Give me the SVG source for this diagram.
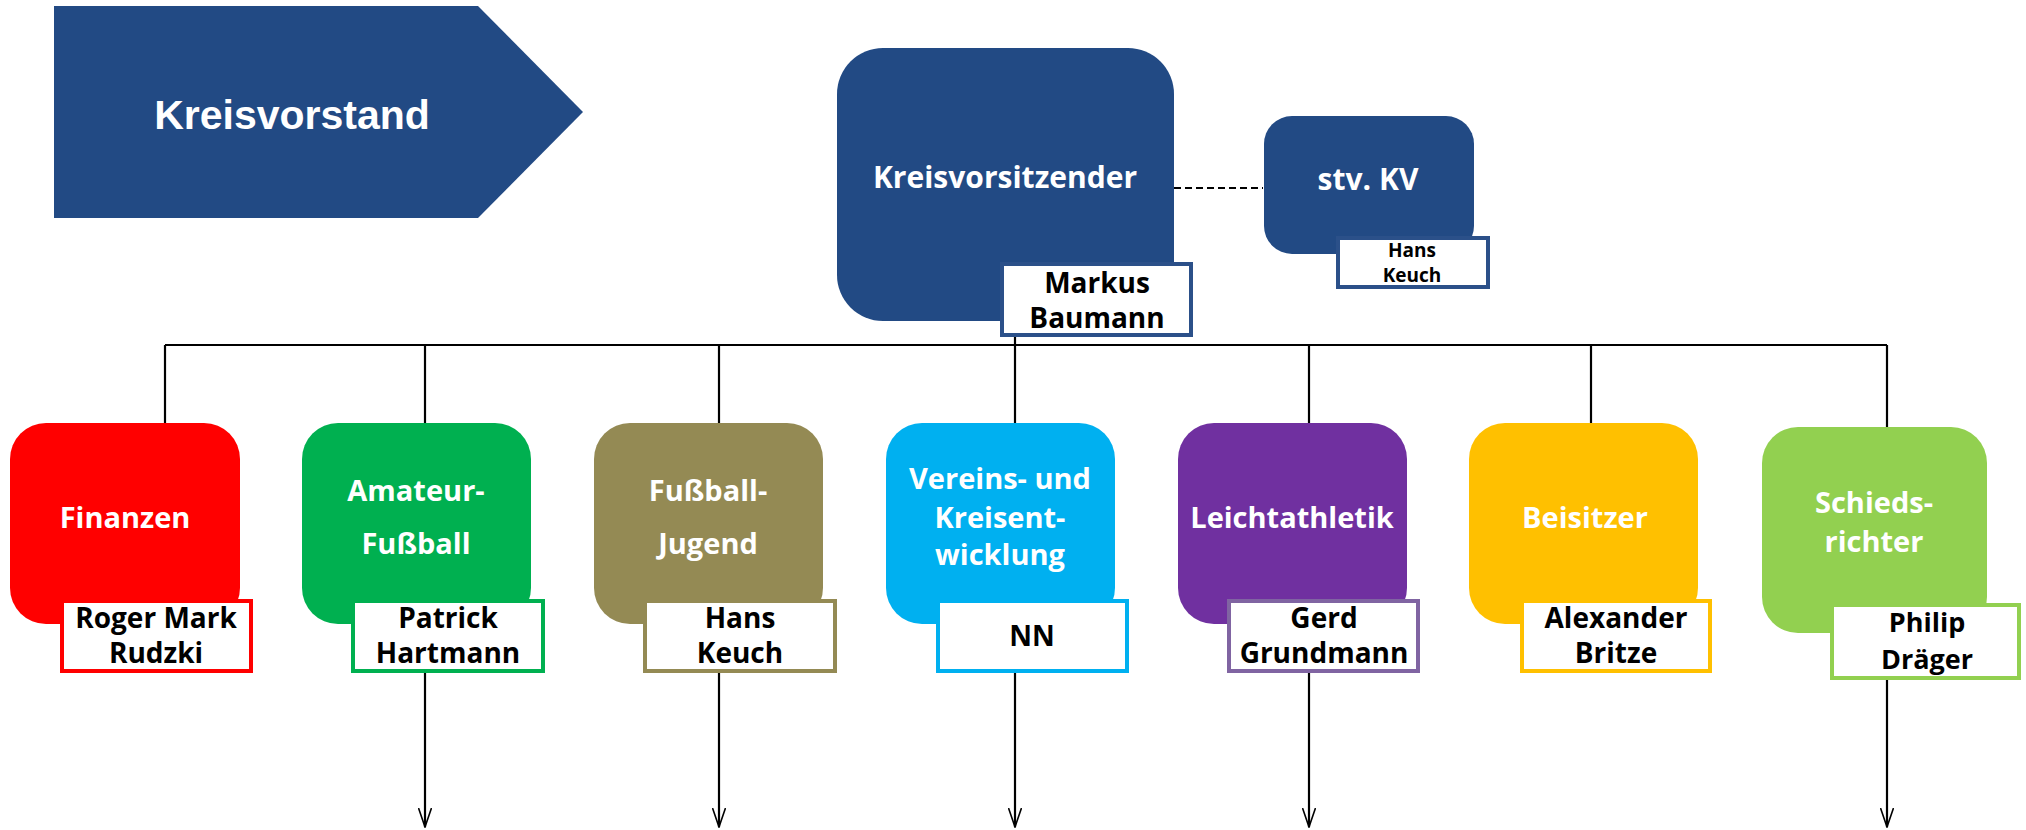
<svg xmlns="http://www.w3.org/2000/svg" width="2026" height="830" viewBox="0 0 2026 830">
<defs>
<style>
.t{font-family:"Open Sans","Noto Sans","Liberation Sans",sans-serif;font-weight:700;fill:#fff;text-anchor:middle;font-size:29px}
.n{font-family:"Open Sans","Noto Sans","Liberation Sans",sans-serif;font-weight:700;fill:#000;text-anchor:middle;font-size:28px}
.nb{fill:#fff;stroke-width:4}
.ln{stroke:#000;stroke-width:2.2;fill:none}
</style>
<marker id="arr" viewBox="0 0 20 14" refX="19" refY="7" markerWidth="20" markerHeight="14" orient="auto" markerUnits="userSpaceOnUse">
<path d="M0,0.5 L19,7 L0,13.5" fill="none" stroke="#000" stroke-width="1.6"/>
</marker>
</defs>
<rect width="2026" height="830" fill="#fff"/>

<g id="connectors">
<line class="ln" x1="165" y1="345" x2="1887" y2="345"/>
<line class="ln" x1="165" y1="345" x2="165" y2="428"/>
<line class="ln" x1="425" y1="345" x2="425" y2="428"/>
<line class="ln" x1="719" y1="345" x2="719" y2="428"/>
<line class="ln" x1="1015" y1="330" x2="1015" y2="428"/>
<line class="ln" x1="1309" y1="345" x2="1309" y2="428"/>
<line class="ln" x1="1591" y1="345" x2="1591" y2="428"/>
<line class="ln" x1="1887" y1="345" x2="1887" y2="432"/>
<line x1="1174" y1="188" x2="1263" y2="188" stroke="#000" stroke-width="2.2" stroke-dasharray="7,4"/>
<line class="ln" x1="425" y1="670" x2="425" y2="827" marker-end="url(#arr)"/>
<line class="ln" x1="719" y1="670" x2="719" y2="827" marker-end="url(#arr)"/>
<line class="ln" x1="1015" y1="670" x2="1015" y2="827" marker-end="url(#arr)"/>
<line class="ln" x1="1309" y1="670" x2="1309" y2="827" marker-end="url(#arr)"/>
<line class="ln" x1="1887" y1="678" x2="1887" y2="827" marker-end="url(#arr)"/>
</g>

<g id="kreisvorstand">
<polygon points="54,6 478,6 583,112 478,218 54,218" fill="#224a84"/>
<text x="292" y="129" font-family="Liberation Sans, Arial, sans-serif" font-weight="700" font-size="41" fill="#fff" text-anchor="middle">Kreisvorstand</text>
</g>

<g id="kreisvorsitzender">
<rect x="837" y="48" width="337" height="273" rx="46" fill="#224a84"/>
<text class="t" x="1005" y="188" style="font-size:30px">Kreisvorsitzender</text>
<rect class="nb" x="1002" y="264" width="189" height="71" stroke="#2b5089"/>
<text class="n" x="1097" y="293">Markus</text>
<text class="n" x="1097" y="328">Baumann</text>
</g>

<g id="stv-kv">
<rect x="1264" y="116" width="210" height="138" rx="28" fill="#224a84"/>
<text class="t" x="1368" y="190" style="font-size:30px">stv. KV</text>
<rect class="nb" x="1338" y="238" width="150" height="49" stroke="#2b5089"/>
<text class="n" x="1412" y="257" style="font-size:19px">Hans</text>
<text class="n" x="1412" y="282" style="font-size:19px">Keuch</text>
</g>

<g id="finanzen">
<rect x="10" y="423" width="230" height="201" rx="36" fill="#ff0000"/>
<text class="t" x="125" y="528">Finanzen</text>
<rect class="nb" x="62" y="601" width="189" height="70" stroke="#ff0000"/>
<text class="n" x="156" y="628">Roger Mark</text>
<text class="n" x="156" y="663">Rudzki</text>
</g>

<g id="amateur-fussball">
<rect x="302" y="423" width="229" height="201" rx="36" fill="#00b050"/>
<text class="t" x="416" y="501">Amateur-</text>
<text class="t" x="416" y="554">Fußball</text>
<rect class="nb" x="353" y="601" width="190" height="70" stroke="#00b050"/>
<text class="n" x="448" y="628">Patrick</text>
<text class="n" x="448" y="663">Hartmann</text>
</g>

<g id="fussball-jugend">
<rect x="594" y="423" width="229" height="201" rx="36" fill="#948a54"/>
<text class="t" x="708" y="501">Fußball-</text>
<text class="t" x="708" y="554">Jugend</text>
<rect class="nb" x="645" y="601" width="190" height="70" stroke="#948a54"/>
<text class="n" x="740" y="628">Hans</text>
<text class="n" x="740" y="663">Keuch</text>
</g>

<g id="vereinsentwicklung">
<rect x="886" y="423" width="229" height="201" rx="36" fill="#00b0f0"/>
<text class="t" x="1000" y="489">Vereins- und</text>
<text class="t" x="1000" y="528">Kreisent-</text>
<text class="t" x="1000" y="565">wicklung</text>
<rect class="nb" x="938" y="601" width="189" height="70" stroke="#00b0f0"/>
<text class="n" x="1032" y="646">NN</text>
</g>

<g id="leichtathletik">
<rect x="1178" y="423" width="229" height="201" rx="36" fill="#7030a0"/>
<text class="t" x="1292" y="528">Leichtathletik</text>
<rect class="nb" x="1229" y="601" width="189" height="70" stroke="#8064a2"/>
<text class="n" x="1324" y="628">Gerd</text>
<text class="n" x="1324" y="663">Grundmann</text>
</g>

<g id="beisitzer">
<rect x="1469" y="423" width="229" height="201" rx="36" fill="#ffc000"/>
<text class="t" x="1585" y="528">Beisitzer</text>
<rect class="nb" x="1522" y="601" width="188" height="70" stroke="#ffc000"/>
<text class="n" x="1616" y="628">Alexander</text>
<text class="n" x="1616" y="663">Britze</text>
</g>

<g id="schiedsrichter">
<rect x="1762" y="427" width="225" height="206" rx="36" fill="#92d050"/>
<text class="t" x="1874" y="513">Schieds-</text>
<text class="t" x="1874" y="552">richter</text>
<rect class="nb" x="1832" y="605" width="187" height="73" stroke="#92d050"/>
<text class="n" x="1927" y="632" style="font-size:27px">Philip</text>
<text class="n" x="1927" y="669" style="font-size:27px">Dräger</text>
</g>
</svg>
